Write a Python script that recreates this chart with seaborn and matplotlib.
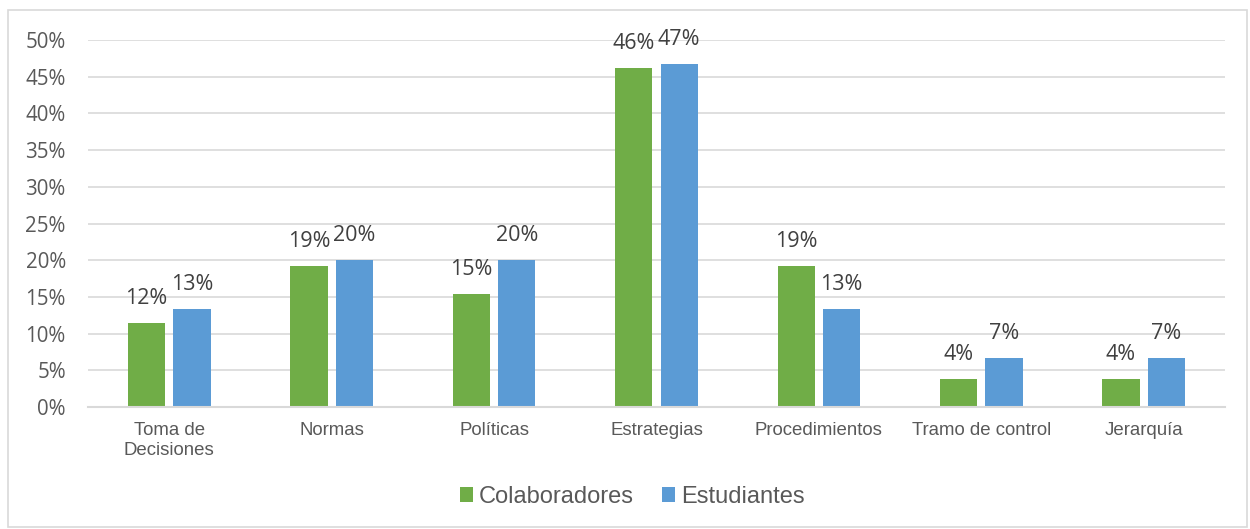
import matplotlib
matplotlib.use("Agg")
import matplotlib.pyplot as plt
import seaborn as sns
import pandas as pd
from matplotlib.patches import Rectangle

categories = ["Toma de\nDecisiones", "Normas", "Políticas", "Estrategias",
              "Procedimientos", "Tramo de control", "Jerarquía"]
colaboradores = [11.5, 19.2, 15.4, 46.2, 19.2, 3.85, 3.85]
estudiantes = [13.3, 20.0, 20.0, 46.7, 13.3, 6.7, 6.7]
series_names = ["Colaboradores", "Estudiantes"]
yticks = [0, 5, 10, 15, 20, 25, 30, 35, 40, 45, 50]

df = pd.DataFrame({
    "cat": categories * 2,
    "val": colaboradores + estudiantes,
    "serie": [series_names[0]] * len(categories) + [series_names[1]] * len(categories),
})

sns.set_theme(style="white")
plt.rcParams['font.family'] = ['Liberation Sans', 'DejaVu Sans']
txt = "#595959"

fig = plt.figure(figsize=(12.5, 5.29), dpi=100)
ax = fig.add_axes([88/1250, 1 - 407/529, (1225-88)/1250, (407-40)/529])

sns.barplot(data=df, x="cat", y="val", hue="serie", order=categories,
            hue_order=series_names, palette=["#70AD47", "#5B9BD5"],
            width=0.56, gap=0.18, ax=ax, legend=True, saturation=1,
            linewidth=0, edgecolor="none")

ax.set_ylim(0, 50)
ax.set_xlim(-0.5, len(categories) - 0.5)
ax.set_yticks(yticks)
ax.set_yticklabels([f"{v}%" for v in yticks], fontfamily="Open Sans", fontsize=14.8, color=txt)
ax.tick_params(axis="x", labelsize=13.4, colors=txt, length=0, pad=11)
ax.tick_params(axis="y", length=0, pad=16)
ax.set_xlabel("")
ax.set_ylabel("")
ax.yaxis.grid(True, color="#D9D9D9", linewidth=1.2)
ax.set_axisbelow(True)
for s in ["top", "right", "left"]:
    ax.spines[s].set_visible(False)
ax.spines["bottom"].set_color("#D9D9D9")
ax.spines["bottom"].set_linewidth(1.5)

for cont in ax.containers:
    labels = [f"{round(b.get_height())}%" for b in cont]
    ax.bar_label(cont, labels=labels, padding=10, fontsize=15.5,
                 fontfamily="Open Sans", color="#404040")

handles, labs = ax.get_legend_handles_labels()
ax.legend(handles, labs, loc="center", bbox_to_anchor=(0.479, -0.245),
          ncol=2, frameon=False, fontsize=17, labelcolor=txt,
          handlelength=0.55, handleheight=0.55, handletextpad=0.25, columnspacing=1.2)

fig.patches.append(Rectangle((8/1250, 2/529), 1239/1250, 517/529,
                             transform=fig.transFigure, fill=False,
                             edgecolor="#D9D9D9", linewidth=1.2))

fig.savefig("out.png", dpi=100)
